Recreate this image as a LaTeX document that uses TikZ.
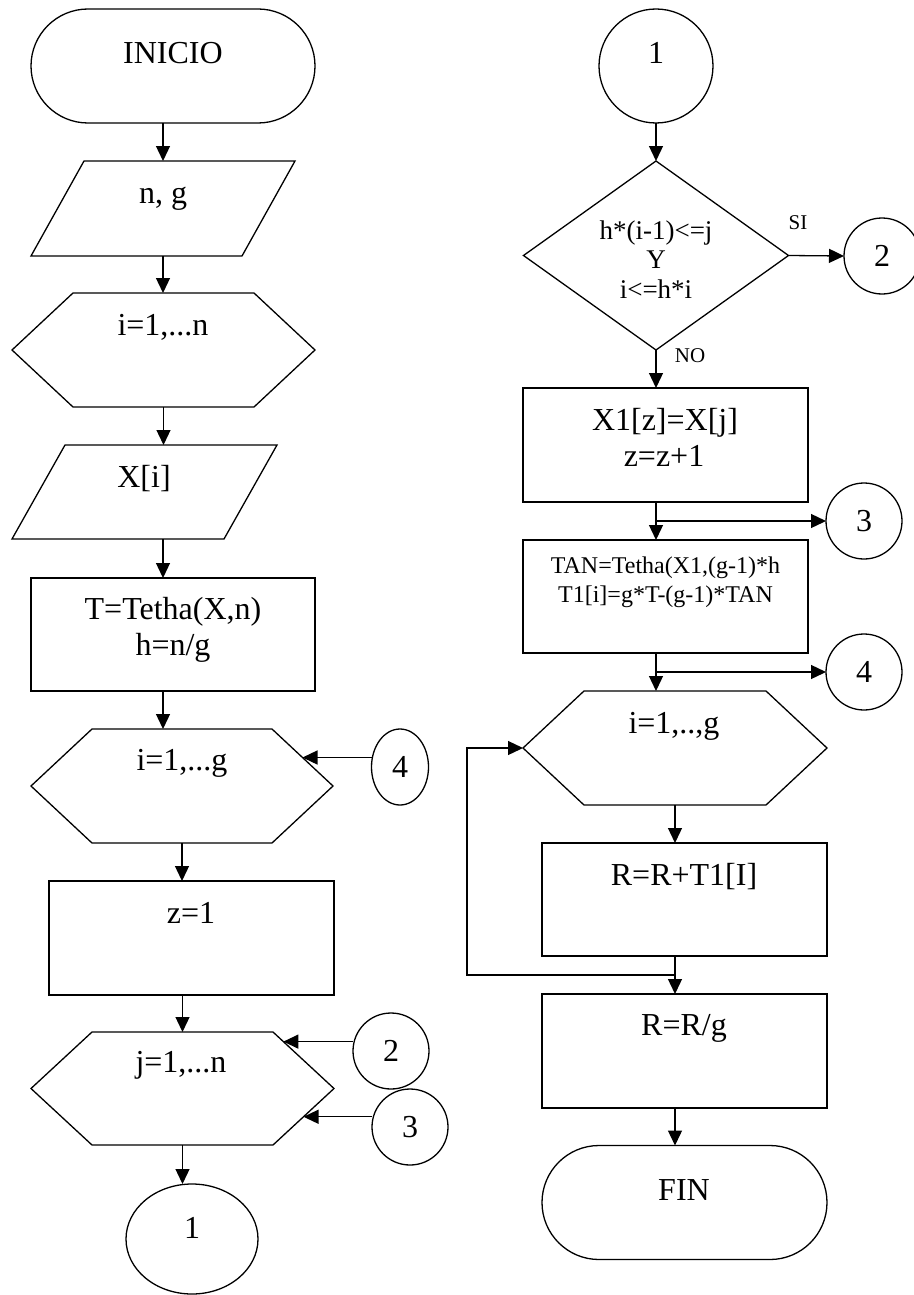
\documentclass[tikz,border=0pt]{standalone}
\usepackage{fontspec}
\setmainfont{Liberation Serif}
\usetikzlibrary{arrows.meta,calc,shapes.geometric}
\newcommand{\hexpath}[2]{\draw (#1.west) -- ([xshift=#2]#1.north west) -- ([xshift=-#2]#1.north east) -- (#1.east) -- ([xshift=-#2]#1.south east) -- ([xshift=#2]#1.south west) -- cycle;}
\newcommand{\parapath}[2]{\draw ([xshift=#2]#1.north west) -- (#1.north east) -- ([xshift=-#2]#1.south east) -- (#1.south west) -- cycle;}
\begin{document}
\begin{tikzpicture}[x=1pt,y=-1pt,line width=1.3pt,
  every node/.style={inner sep=0pt,outer sep=0pt},
  txt/.style={anchor=base,font=\fontsize{32}{36}\selectfont},
  txtm/.style={anchor=base,font=\fontsize{27}{30}\selectfont},
  txts/.style={anchor=base,font=\fontsize{24}{28}\selectfont},
  txtl/.style={anchor=base,font=\fontsize{21}{24}\selectfont},
  arr/.style={-{Triangle[length=15pt,width=14pt]}},
  procbox/.style={draw,rectangle,minimum width=#1,minimum height=114pt},
  termbox/.style={draw,rectangle,rounded corners=57pt,minimum width=#1,minimum height=114pt},
  framebox/.style={rectangle,minimum width=#1},
  conn/.style={draw,ellipse,minimum width=76pt,minimum height=76pt,font=\fontsize{32}{36}\selectfont}
]
\fill[white] (0,0) rectangle (913,1295);
\useasboundingbox (0,0) rectangle (913,1295);

% ---------------- left column ----------------
\node[termbox=284pt] (inicio) at (173,66) {};
\node[framebox=264pt,minimum height=95pt] (ng) at (163,208.5) {};
\parapath{ng}{53pt}
\node[framebox=303pt,minimum height=114pt] (hexn) at (163.5,350) {};
\hexpath{hexn}{61pt}
\node[framebox=265pt,minimum height=94pt] (xi) at (144.5,492) {};
\parapath{xi}{53pt}
\node[procbox=284pt,minimum height=113pt] (tt) at (173,634.5) {};
\node[framebox=302pt,minimum height=114pt] (hexg) at (182,786) {};
\hexpath{hexg}{61pt}
\node[procbox=285pt] (z1) at (191.5,938) {};
\node[framebox=303pt,minimum height=113pt] (hexj) at (182.5,1088.5) {};
\hexpath{hexj}{61pt}
\node[draw,ellipse,minimum width=132pt,minimum height=110pt] (e1) at (192,1239) {};
\node[conn,minimum width=57pt] (c4l) at (400,767) {4};
\node[conn] (c2l) at (391,1051) {2};
\node[conn] (c3l) at (410,1127) {3};

\coordinate (colA) at (163,0);
\draw[arr] (ng.north |- inicio.south) -- (ng.north);
\draw[arr] (ng.south) -- (ng.south |- hexn.north);
\draw[arr] (hexn.south) -- (hexn.south |- xi.north);
\draw[arr] (xi.south -| colA) -- (tt.north -| colA);
\draw[arr] (tt.south -| colA) -- (hexg.north -| colA);
\draw[arr] (hexg.south) -- (hexg.south |- z1.north);
\draw[arr] (hexj.north |- z1.south) -- (hexj.north);
\draw[arr] (hexj.south) -- (hexj.south |- e1.north);
\coordinate (p4) at ($(hexg.east)!0.5!([xshift=-61pt]hexg.north east)$);
\draw[arr] (p4 -| c4l.west) -- (p4);
\coordinate (p2) at ($([xshift=-61pt]hexj.north east)!0.17!(hexj.east)$);
\draw[arr] (p2 -| c2l.west) -- (p2);
\coordinate (p3) at ($(hexj.east)!0.5!([xshift=-61pt]hexj.south east)$);
\draw[arr] (p3 -| c3l.west) -- (p3);

\node[txt] (tInicio) at (173,64) {INICIO};
\node[txt] (tNg) at (163,203) {n, g};
\node[txt] (tHexn) at (163,335) {i=1,...n};
\node[txt] (tXi) at (144,487) {X[i]};
\node[txt] (tT1) at (173,619) {T=Tetha(X,n)};
\node[txt] (tT2) at (173,655) {h=n/g};
\node[txt] (tHexg) at (182,770) {i=1,...g};
\node[txt] (tZ) at (191,923) {z=1};
\node[txt] (tHexj) at (181,1072) {j=1,...n};
\node[txt] (tE1) at (192,1238) {1};

% ---------------- right column ----------------
\node[draw,circle,minimum size=114pt] (c1r) at (656,66) {};
\node[framebox=265pt,minimum height=189pt] (dia) at (656,255.5) {};
\draw (dia.north) -- (dia.east) -- (dia.south) -- (dia.west) -- cycle;
\node[conn] (c2r) at (882,256) {2};
\node[procbox=285pt] (x1) at (665.5,445) {};
\node[conn] (c3r) at (864,521) {3};
\node[procbox=285pt,minimum height=113pt] (tan) at (665.5,596.5) {};
\node[conn] (c4r) at (864,672) {4};
\node[framebox=304pt,minimum height=114pt] (hexi) at (675,748) {};
\hexpath{hexi}{61pt}
\node[procbox=285pt,minimum height=113pt] (rr) at (684.5,899.5) {};
\node[procbox=285pt] (rg) at (684.5,1051) {};
\node[termbox=285pt] (fin) at (684.5,1202.5) {};

\draw[arr] (c1r.south) -- (dia.north);
\draw[arr] (dia.south) -- (dia.south |- x1.north);
\draw[arr] (dia.east) -- (c2r.west);
\draw[arr] (x1.south -| dia.south) -- (tan.north -| dia.south);
\coordinate (b3) at (656,521);
\draw[arr] (b3) -- (c3r.west);
\draw[arr] (tan.south -| dia.south) -- (hexi.north -| dia.south);
\coordinate (b4) at (656,672);
\draw[arr] (b4) -- (c4r.west);
\draw[arr] (hexi.south) -- (hexi.south |- rr.north);
\draw[arr] (rr.south -| hexi.south) -- (rg.north -| hexi.south);
\draw[arr] (rg.south -| hexi.south) -- (fin.north -| hexi.south);
\coordinate (lp) at (675,975);
\coordinate (lx) at (467,975);
\draw[arr] (lp) -- (lx) |- (hexi.west);

\node[txt] (tC1) at (656,64) {1};
\node[txtm] (d1) at (656,239) {h*(i-1)<=j};
\node[txtm] (d2) at (656,268) {Y};
\node[txtm] (d3) at (656,298) {i<=h*i};
\node[txtl] (tSI) at (798,229) {SI};
\node[txtl] (tNO) at (690,362) {NO};
\node[txt] (tX1a) at (665,430) {X1[z]=X[j]};
\node[txt] (tX1b) at (664,466) {z=z+1};
\node[txts] (tTan1) at (665.5,573) {TAN=Tetha(X1,(g-1)*h};
\node[txts] (tTan2) at (665.5,602) {T1[i]=g*T-(g-1)*TAN};
\node[txt] (tHexi) at (674,733) {i=1,..,g};
\node[txt] (tRR) at (684,885) {R=R+T1[I]};
\node[txt] (tRG) at (684,1035) {R=R/g};
\node[txt] (tFin) at (684,1200) {FIN};
\end{tikzpicture}
\end{document}
